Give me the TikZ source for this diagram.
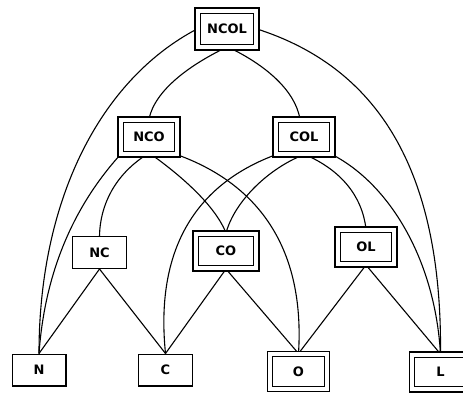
\documentclass[tikz,border=0pt]{standalone}
\usepackage{fontspec}
\setmainfont{DejaVu Sans}
\usetikzlibrary{backgrounds}
\begin{document}
\begin{tikzpicture}[x=1pt,y=-1pt,
  box/.style={draw, line width=1.2pt, inner sep=0pt, font=\fontsize{13}{15}\selectfont\bfseries},
  dbox/.style={box, double, double distance=4pt, minimum width=56.8pt, minimum height=34.8pt},
  sbox/.style={box, minimum width=53.8pt, minimum height=31.8pt},
  edge/.style={line width=1.1pt}]
\useasboundingbox (0,0) rectangle (463,392);
\node[dbox, minimum width=58.8pt, minimum height=36.8pt] (NCOL) at (227,29) {NCOL};
\node[dbox] (NCO) at (149,137) {NCO};
\node[dbox] (COL) at (304,137) {COL};
\node[sbox] (NC) at (99.5,252.5) {NC};
\node[dbox, minimum width=60.8pt] (CO) at (226,251) {CO};
\node[dbox] (OL) at (366,247) {OL};
\node[sbox] (N) at (39,370) {N};
\node[sbox] (C) at (165.5,370) {C};
\node[dbox] (O) at (298.5,371.5) {O};
\node[dbox] (L) at (440.5,372) {L};
\begin{scope}[on background layer]
\draw[edge] (NCOL.west) .. controls (100,80) and (39,200) .. (N.north);
\draw[edge] ([xshift=-2pt]NCOL.south) .. controls (190,65) and (155,90) .. (NCO.north);
\draw[edge] ([xshift=3pt]NCOL.south) .. controls (265,65) and (295,90) .. ([xshift=-4pt]COL.north);
\draw[edge] (NCOL.east) .. controls (385,70) and (442,180) .. (L.north);
\draw[edge] (NCO.south west) .. controls (75,205) and (45,270) .. (N.north);
\draw[edge] ([xshift=-3pt]NCO.south) .. controls (115,175) and (100,205) .. (NC.north);
\draw[edge] ([xshift=3pt]NCO.south) .. controls (180,175) and (215,205) .. (CO.north);
\draw[edge] (NCO.south east) .. controls (260,185) and (305,250) .. (O.north);
\draw[edge] (COL.south west) .. controls (195,185) and (155,250) .. (C.north);
\draw[edge] ([xshift=-1pt]COL.south) .. controls (270,168) and (235,200) .. (CO.north);
\draw[edge] ([xshift=2pt]COL.south) .. controls (340,170) and (362,195) .. (OL.north);
\draw[edge] (COL.south east) .. controls (390,185) and (435,260) .. (L.north);
\draw[edge] (NC.south) -- (N.north);
\draw[edge] (NC.south) -- (C.north);
\draw[edge] (CO.south) -- (C.north);
\draw[edge] (CO.south) -- (O.north);
\draw[edge] (OL.south) -- (O.north);
\draw[edge] (OL.south) -- (L.north);
\end{scope}
\end{tikzpicture}
\end{document}
